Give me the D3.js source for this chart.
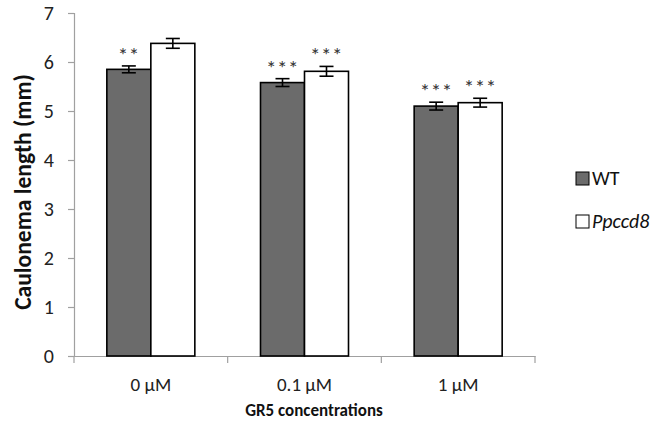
<!DOCTYPE html>
<html><head><meta charset="utf-8">
<script src="https://cdn.jsdelivr.net/npm/d3@7"></script>
<style>body{margin:0;background:#fff}svg{display:block}text{font-family:Carlito,Lato,"Open Sans",sans-serif}</style>
</head><body>
<svg id="c" width="662" height="431"></svg>
<script>
const categories = ["0 µM", "0.1 µM", "1 µM"];
const seriesNames = ["WT", "Ppccd8"];
const wtValues = [5.85, 5.58, 5.10];
const ppValues = [6.38, 5.81, 5.17];
const wtErrors = [0.07, 0.08, 0.08];
const ppErrors = [0.10, 0.10, 0.09];
const wtSig = ["**", "***", "***"];
const ppSig = ["", "***", "***"];
const yTicks = [0, 1, 2, 3, 4, 5, 6, 7];

const svg = d3.select("#c");
const x0 = d3.scaleBand().domain(categories).range([74, 535]).paddingInner(0).paddingOuter(0);
const y = d3.scaleLinear().domain([0, 7]).range([356, 13]);
const barW = 44;
const colors = {"WT": "#6b6b6b", "Ppccd8": "#ffffff"};

// y axis
const yAxis = svg.append("g").attr("transform", "translate(74,0)")
  .call(d3.axisLeft(y).tickValues(yTicks).tickFormat(d3.format("d")).tickSize(6).tickPadding(14));
yAxis.select(".domain").attr("stroke", "#a0a0a0").attr("stroke-width", 1.2);
yAxis.selectAll(".tick line").attr("stroke", "#a0a0a0").attr("stroke-width", 1.2);
yAxis.selectAll(".tick text").attr("font-size", 20).attr("fill", "#222");

// x axis
const xAxis = svg.append("g").attr("transform", "translate(0,356)")
  .call(d3.axisBottom(x0).tickSize(0).tickPadding(22));
xAxis.select(".domain").attr("stroke", "#a0a0a0").attr("stroke-width", 1.2);
xAxis.selectAll(".tick text").attr("font-size", 19).attr("fill", "#222");
const bounds = categories.map(c => x0(c)).concat([x0(categories[categories.length-1]) + x0.bandwidth()]);
svg.append("g").selectAll("line").data(bounds).join("line")
  .attr("x1", d => d).attr("x2", d => d).attr("y1", 356).attr("y2", 363)
  .attr("stroke", "#a0a0a0").attr("stroke-width", 1.2);

const data = [];
categories.forEach((c, i) => {
  data.push({c, s: "WT", v: wtValues[i], e: wtErrors[i], sig: wtSig[i], k: 0});
  data.push({c, s: "Ppccd8", v: ppValues[i], e: ppErrors[i], sig: ppSig[i], k: 1});
});
const bx = d => x0(d.c) + (x0.bandwidth() - 2 * barW) / 2 + d.k * barW;

svg.append("g").selectAll("rect").data(data).join("rect")
  .attr("x", bx).attr("y", d => y(d.v)).attr("width", barW).attr("height", d => y(0) - y(d.v))
  .attr("fill", d => colors[d.s]).attr("stroke", "#000").attr("stroke-width", 1.6);

const eb = svg.append("g").attr("stroke", "#000").attr("stroke-width", 1.6);
data.forEach(d => {
  const cx = bx(d) + barW / 2;
  eb.append("line").attr("x1", cx).attr("x2", cx).attr("y1", y(d.v + d.e)).attr("y2", y(d.v - d.e));
  [d.v + d.e, d.v - d.e].forEach(v => eb.append("line").attr("x1", cx - 7).attr("x2", cx + 7).attr("y1", y(v)).attr("y2", y(v)));
});

svg.append("g").selectAll("text").data(data.filter(d => d.sig)).join("text")
  .attr("x", d => bx(d) + barW / 2).attr("y", d => y(d.v + d.e) - 4)
  .attr("text-anchor", "middle").attr("font-size", 21).attr("fill", "#333")
  .attr("letter-spacing", 0.5).text(d => d.sig);

// titles
svg.append("text").attr("transform", "translate(31,192) rotate(-90)").attr("text-anchor", "middle")
  .attr("font-size", 23.5).attr("font-weight", "bold").attr("fill", "#111").text("Caulonema length (mm)");
svg.append("text").attr("x", 314).attr("y", 416).attr("text-anchor", "middle")
  .attr("font-size", 17).attr("font-weight", "bold").attr("fill", "#111").text("GR5 concentrations");

// legend
const lg = svg.append("g").selectAll("g").data(seriesNames).join("g")
  .attr("transform", (d, i) => `translate(576,${172 + i * 43})`);
lg.append("rect").attr("width", 13).attr("height", 13)
  .attr("fill", d => colors[d]).attr("stroke", "#000").attr("stroke-width", 1);
lg.append("text").attr("x", 16).attr("y", 13).attr("font-size", 20).attr("fill", "#111")
  .attr("font-style", d => d === "Ppccd8" ? "italic" : "normal").text(d => d);
</script>
</body></html>
